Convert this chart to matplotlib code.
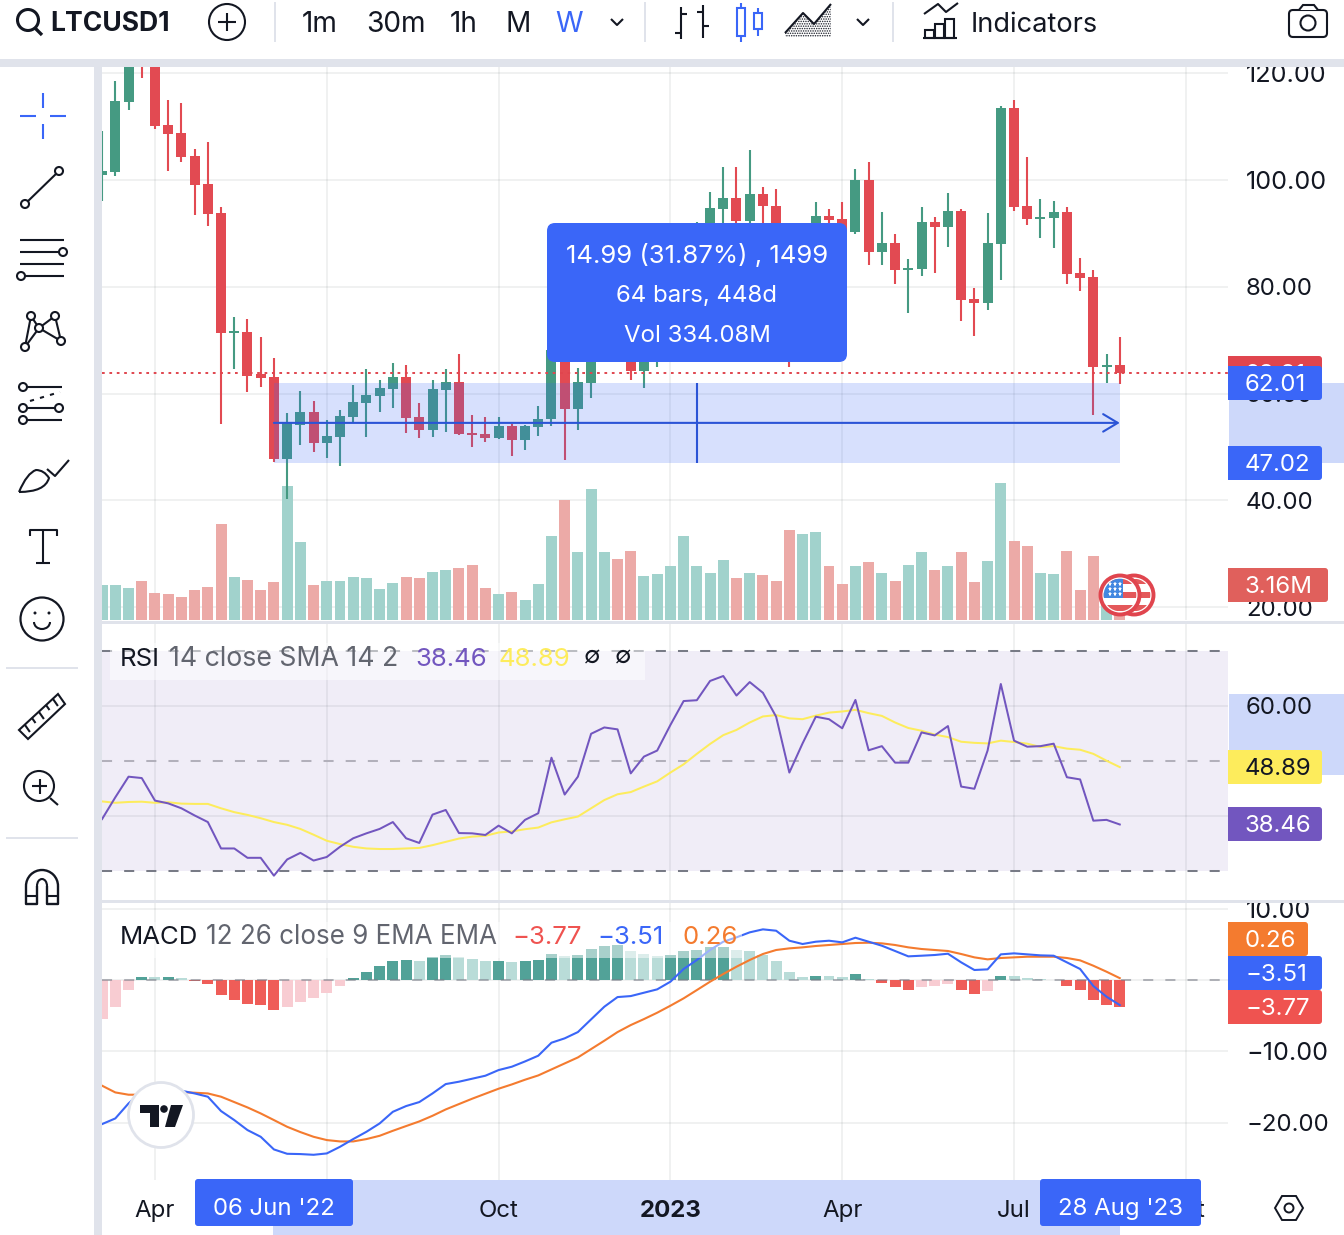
import numpy as np
import matplotlib
matplotlib.use("Agg")
import matplotlib.pyplot as plt
from matplotlib.patches import Rectangle, Circle, FancyBboxPatch, Polygon, PathPatch, Arc
from matplotlib.path import Path

plt.rcParams['font.family'] = ['Inter', 'DejaVu Sans']
plt.rcParams['hatch.linewidth'] = 0.7

W, H = 1344, 1235

opens = [100.9,101.5,114.6,128,125,110.3,108.8,104.5,99.25,93.8,71.35,71.5,63.7,63.1,47.75,54.1,56.55,50.75,51.9,55.6,
         58.2,59.55,60.85,63.1,55.6,53.2,60.7,62.2,52.6,52.4,51.7,53.95,51.3,53.75,55.25,68.2,57.1,62,70,71,
         68,64.2,66,70,78,85,92,94.6,96.6,92.3,97.35,95.1,88,73,83,93.25,92.7,90.25,100,86.5,
         88.2,83.15,83.3,92.1,91.2,94.2,77.7,77,88,113.5,95.1,92.7,92.9,94,82.6,81.85,65,65.35]
closes = [101.7,114.8,124,125,110.1,108.6,104.3,99.06,93.6,71.35,71.7,63.3,62.9,47.75,54.5,56.55,50.75,52.06,55.8,58.4,
          59.7,61.05,63.1,55.4,53.2,60.85,62.2,52.4,52.25,51.7,53.95,51.3,53.95,55.25,68.2,57.1,62.2,70,71,68,
          64.2,66,70,78,85,91,94.75,96.6,92.3,97.35,95.1,88,73,83,93.25,92.5,90.25,100,86.5,88.2,
          83.15,83.5,92.1,91.2,94.2,77.5,77,88.2,113.5,94.9,92.7,93.05,94,82.4,81.65,65,65.35,63.8]
highs = [109.2,118.5,128,132,127,115,114.4,105.8,107.1,94.94,74.4,74,70.6,66.7,56.4,60.5,58.6,55.05,56.9,61.6,
         64.6,62.5,65.7,65.35,58.25,62.5,64.6,67.4,56,55.6,55.6,54.3,54.1,57.7,69,72,64.8,71,72,72,
         69,67,71,79,86,92.1,97.75,102.4,102.4,105.6,98.7,98.3,90,84,95.9,94.6,95.9,102.05,103.35,94,
         89.9,85.2,94.9,93.05,97.55,94.6,79.75,93.8,113.9,115,104.3,96.4,96.05,94.9,85.4,83.15,67.4,70.6]
lows = [96.07,100.75,113.1,119.1,109.55,101.7,103.4,93.4,91.4,54.3,64.6,60.3,61.2,47.2,40.3,50.4,49.1,48,46.45,54.7,
        51.9,56.55,57.3,52.6,51.7,51.9,52.8,52.25,50,50.95,51.5,48.3,49.4,52.06,53.9,47.6,53.2,59.2,69,66.5,
        62.5,61,65,69,77,84,90,91,90,91,91.5,84,65,70,81,91.9,88,89.9,84.05,84.05,
        80.5,75.1,82,82.6,87.45,73.6,70.8,75.65,81.25,94.2,91.55,89.1,87.25,80.5,79.2,56,62,61.8]
volumes = [5.25,5.25,4.8,5.85,4.05,3.9,3.45,4.5,4.95,14.4,6.45,6.0,4.5,5.7,20.1,11.7,5.25,5.85,5.85,6.45,
           6.3,4.65,5.55,6.45,6.3,7.2,7.5,7.8,8.25,4.8,3.9,4.2,3.0,5.4,12.6,18,10.2,19.65,10.2,9.15,
           10.35,6.6,6.9,8.1,12.6,8.1,7.05,9,6.3,7.05,6.75,5.85,13.5,12.9,13.2,8.1,5.4,8.1,8.7,7.05,
           5.85,8.25,10.2,7.5,8.1,10.2,5.7,8.85,20.55,11.85,11.1,7.05,6.9,10.35,4.5,9.6,5.0,3.16]

rsi = [39.45,43.4,47.15,46.9,42.8,42.3,41.4,40.1,38.9,34.1,34.1,32.4,32.4,29.15,32.1,33.3,31.9,32.55,34.4,35.95,
       36.85,37.65,38.9,35.95,35.1,40.25,41.1,36.9,36.85,36.55,38.25,36.85,39.3,40.5,50.6,43.9,47.15,54.95,56.1,55.75,
       47.75,50.8,51.9,56.55,60.9,61.05,64.55,65.45,61.9,64.35,62.4,58.05,47.9,53.2,58.05,57.6,55.95,61.1,51.95,52.7,
       49.7,49.7,55.2,54.65,56.35,45.35,44.95,51.9,64,53.7,52.6,52.7,53.15,47.05,46.65,39.15,39.3,38.46]
rsi_sma = [42.65,42.4,42.55,42.6,42.4,42.5,42.25,42.2,42.2,41.4,40.7,40.2,39.6,38.9,38.4,37.65,36.6,35.5,34.9,34.4,
           34.1,34,34,34.1,34.2,34.7,35.3,35.9,36.25,36.4,37,37.2,37.6,37.9,38.85,39.4,39.9,41.4,42.9,43.95,
           44.35,45.35,46.3,47.9,49.4,51.3,53.1,54.7,55.65,57,58.1,58.35,57.75,57.6,58.25,58.8,59,59.3,58.7,58.2,
           57,56,55.5,54.8,54.35,53.5,53.3,53.2,53.7,53.45,53.15,52.55,52.7,52.25,52.05,51.3,50.05,48.89]

macd_line = [-20.17,-19.38,-17.28,-15.64,-15.18,-15.18,-15.5,-15.88,-16.34,-18.35,-19.61,-21.01,-21.95,-23.72,-24.33,-24.37,-24.47,-24.28,-23.35,-22.27,
             -21.25,-20.08,-18.45,-17.65,-17.09,-15.88,-14.57,-14.24,-13.82,-13.4,-12.61,-12.14,-11.4,-10.6,-8.78,-8.17,-7.29,-5.51,-3.74,-2.39,
             -2.25,-1.78,-1.31,-0.24,1.54,2.8,4.2,5.36,5.97,6.67,7.09,6.9,5.5,5.04,5.36,5.5,5.27,5.92,5.36,4.8,
             4.06,3.31,3.4,3.5,3.68,2.47,1.4,1.49,3.59,3.73,3.59,3.45,3.4,2.47,1.54,-0.84,-2.34,-3.51]
signal_line = [-14.8,-15.74,-16.06,-16.06,-16.02,-15.88,-15.69,-15.78,-15.88,-16.34,-17.09,-17.84,-18.68,-19.61,-20.55,-21.29,-21.95,-22.41,-22.6,-22.6,
               -22.27,-21.81,-21.11,-20.45,-19.8,-19.01,-18.12,-17.37,-16.62,-15.92,-15.22,-14.62,-13.96,-13.36,-12.52,-11.68,-10.84,-9.67,-8.5,-7.29,
               -6.31,-5.47,-4.58,-3.6,-2.57,-1.41,-0.24,0.84,1.86,2.8,3.64,4.2,4.43,4.57,4.76,4.9,5.04,5.18,5.22,5.13,
               4.9,4.57,4.34,4.2,4.06,3.64,3.17,2.89,3.08,3.17,3.26,3.26,3.26,3.08,2.75,2.0,1.16,0.26]
hist = [-5.46,-3.78,-1.4,0.42,0.40,0.42,0.28,-0.14,-0.56,-2.1,-2.8,-3.36,-3.5,-4.2,-3.78,-3.08,-2.52,-1.82,-0.84,0.28,
        1.12,1.96,2.66,2.8,2.66,3.22,3.5,3.22,2.94,2.66,2.68,2.52,2.66,2.8,3.64,3.36,3.5,4.34,4.76,4.9,
        4.06,3.64,3.36,3.5,4.06,4.2,4.62,4.62,4.2,4.06,3.5,2.66,1.12,0.42,0.56,0.55,0.42,0.84,0.14,-0.42,
        -0.98,-1.4,-0.98,-0.84,-0.56,-1.4,-1.96,-1.54,0.56,0.55,0.28,0.14,0.02,-0.84,-1.4,-2.8,-3.5,-3.77]

price_ticks = [120, 100, 80, 60, 40, 20]
rsi_ticks = [60, 40]
macd_ticks = [10, 0, -10, -20]
time_pos = [4, 17, 30, 43, 56, 69, 82]
time_labels = ['Apr', 'Jul', 'Oct', '2023', 'Apr', 'Jul', 'Oct']
range_top, range_bottom = 62.01, 47.02
range_start, range_end = 13, 77
last_price = 63.81

UP, DOWN = '#459A82', '#E24A52'
BLUE = '#3A66F8'
INK = '#131722'
GREY = '#62656F'
GUTTER = '#E0E3EB'
BAND = '#CDD8FA'
XLIM = (-0.008, 85.19)

fig = plt.figure(figsize=(W/100, H/100), dpi=100, facecolor='white')

def pane(x0, y0, x1, y1, z):
    ax = fig.add_axes([x0/W, 1-y1/H, (x1-x0)/W, (y1-y0)/H], zorder=z)
    ax.patch.set_alpha(0)
    for s in ax.spines.values():
        s.set_visible(False)
    ax.set_xlim(*XLIM)
    ax.tick_params(length=0, labelbottom=False, labelleft=False)
    return ax

def right_labels(ax, ticks):
    ax.set_yticks(ticks)
    ax.yaxis.tick_right()
    ax.tick_params(axis='y', length=0, pad=13, labelright=True, labelleft=False)
    ax.set_yticklabels([f'{t:.2f}'.replace('-', '\u2212') for t in ticks], fontsize=17.3, color=INK, ha='left')
    for lab in ax.get_yticklabels():
        if '1' in lab.get_text():
            lab.set_fontsize(18.2)

def grid(ax):
    ax.set_axisbelow(True)
    ax.set_xticks(time_pos)
    ax.grid(True, color='#2A2E39', alpha=0.065, lw=1.45)

# background layer
bg = fig.add_axes([0, 0, 1, 1], zorder=0)
bg.set_xlim(0, W); bg.set_ylim(H, 0); bg.axis('off')
bg.add_patch(Rectangle((1229, 383), 115, 80, color=BAND, lw=0))
bg.add_patch(Rectangle((1229, 694), 115, 81, color=BAND, lw=0))
bg.add_patch(Rectangle((273, 1180), 847, 55, color=BAND, lw=0))

# price pane
pgrid = pane(102, 67, 1228, 620, 1)
pgrid.set_ylim(17.6, 121.16)
right_labels(pgrid, price_ticks)
grid(pgrid)

vol = pane(102, 67, 1228, 620, 2)
vol.set_ylim(0, 82.9)
vol.set_xticks([]); vol.set_yticks([])
idx = np.arange(len(closes))
o, c, h, l = map(np.array, (opens, closes, highs, lows))
is_up = c >= o
vol.bar(idx, volumes, width=0.83, color=np.where(is_up, '#A1D2CC', '#ECAAA7'), alpha=1, lw=0)
vol.patch.set_alpha(0)

price = pane(102, 67, 1228, 620, 3)
price.set_ylim(17.6, 121.16)
price.set_xticks([]); price.set_yticks([])
cols = np.where(is_up, UP, DOWN)
price.vlines(idx, l, h, colors=cols, lw=1.5, zorder=2)
price.bar(idx, np.abs(c-o), bottom=np.minimum(o, c), width=0.757, color=cols, lw=0, zorder=3)
price.axhline(last_price, color='#E0454E', lw=1.4, ls=(0, (1.4, 2.4)), zorder=4)
price.add_patch(Rectangle((range_start, range_bottom), range_end-range_start, range_top-range_bottom,
                          facecolor=BLUE, alpha=0.2, lw=0, zorder=5))
mid = (range_top + range_bottom) / 2
price.annotate('', xy=(range_end, mid), xytext=(range_start, mid), zorder=6,
               arrowprops=dict(arrowstyle='->,head_length=0.75,head_width=0.45', color='#2B54D6', lw=1.5,
                               shrinkA=0, shrinkB=0, mutation_scale=14))
price.vlines((range_start+range_end)/2, range_bottom, range_top, color='#2B54D6', lw=1.5, zorder=6)

# RSI pane
rax = pane(102, 622, 1228, 900, 2)
rax.set_ylim(24.73, 75.27)
right_labels(rax, rsi_ticks)
grid(rax)
rax.axhspan(30, 70, color='#F0EDF7', lw=0, zorder=0.1)
rax.axhline(70, color='#787B86', lw=1.45, ls=(0, (5, 6)), zorder=1)
rax.axhline(30, color='#787B86', lw=1.45, ls=(0, (5, 6)), zorder=1)
rax.axhline(50, color='#B2B0BB', lw=1.45, ls=(0, (5, 6)), zorder=1)
rax.plot(idx, rsi_sma, color='#FDEC5C', lw=1.45, zorder=3)
rax.plot(idx, rsi, color='#7256BF', lw=1.45, zorder=4)

# MACD pane
max_ = pane(102, 901, 1228, 1180, 2)
max_.set_ylim(-28.0, 11.06)
right_labels(max_, [10, -10, -20])
max_.set_yticks(macd_ticks[1:2], minor=True)
grid(max_)
max_.yaxis.grid(True, which='minor', color='#2A2E39', alpha=0.065, lw=1.45)
hcol = []
prev = -6.0
for v in hist:
    if v >= 0:
        hcol.append('#52A298' if v >= prev else '#B9DCD8')
    else:
        hcol.append('#EF5D58' if v < prev else '#F8CCD2')
    prev = v
max_.bar(idx, hist, width=0.83, color=hcol, lw=0, zorder=2)
max_.axhline(0, color='#787B86', alpha=0.55, lw=1.45, ls=(0, (5, 6)), zorder=3)
max_.plot(idx, signal_line, color='#F47B2F', lw=1.5, zorder=4)
max_.plot(idx, macd_line, color='#3A66F8', lw=1.5, zorder=5)
max_.set_xticks(time_pos)
max_.set_xticklabels(time_labels, fontsize=17.3, color=INK)
max_.tick_params(axis='x', length=0, pad=14.6, labelbottom=True)
max_.get_xticklabels()[3].set_fontweight('bold')

# overlay layer
ov = fig.add_axes([0, 0, 1, 1], zorder=10)
ov.set_xlim(0, W); ov.set_ylim(H, 0); ov.axis('off')

def T(x, y, s, px=24, color=INK, ha='left', weight='normal', z=4):
    ov.text(x, y+2, s, fontsize=px*0.72, color=color, ha=ha, va='center', fontweight=weight, zorder=z)

def L(xs, ys, color=INK, lw=1.5, **kw):
    ov.plot(xs, ys, color=color, lw=lw, solid_capstyle=kw.pop('cap', 'butt'), zorder=kw.pop('zorder', 4), **kw)

def R(x, y, w, h, color, alpha=1, z=1):
    ov.add_patch(Rectangle((x, y), w, h, facecolor=color, alpha=alpha, lw=0, zorder=z))

def RR(x, y, w, h, color, r=6, z=2):
    ov.add_patch(FancyBboxPatch((x+r, y+r), w-2*r, h-2*r, boxstyle=f'round,pad={r},rounding_size={r}',
                                facecolor=color, lw=0, zorder=z))

def C(x, y, r, lw=1.5, fc='white', ec=INK, z=5):
    ov.add_patch(Circle((x, y), r, facecolor=fc, edgecolor=ec, lw=lw, zorder=z))

# chrome strips
R(0, 59, W, 8, GUTTER)
R(94, 59, 8, H-59, GUTTER)
R(102, 621, W-102, 3, GUTTER)
R(102, 900, W-102, 3, GUTTER)
for sx in (275, 645, 893):
    R(sx-1, 2, 2, 40, GUTTER)

# top toolbar
C(28, 20, 10.5, lw=2.2, fc='none')
L([35, 42], [28, 35], lw=2.4)
T(50, 22, 'LTCUSD1', 26.5, weight='bold')
R(172, 4, 12, 36, 'white', z=6)
C(227, 22, 18, lw=1.5, fc='none')
L([218, 236], [22, 22]); L([227, 227], [13, 31])
for x, s, col in [(302, '1m', INK), (366, '30m', INK), (450, '1h', INK), (506, 'M', INK), (555, 'W', BLUE)]:
    T(x, 23, s, 28, col)
L([611, 617, 623], [19, 25, 19])
L([681, 681], [7, 39]); L([675, 681], [33, 33]); L([681, 687], [14, 14])
L([703, 703], [5, 38]); L([697, 703], [12, 12]); L([703, 709], [26, 26])
L([741, 741], [3, 42], BLUE, zorder=2); ov.add_patch(Rectangle((737, 8), 8, 28, facecolor='white', edgecolor=BLUE, lw=1.5, zorder=3))
L([758, 758], [8, 36], BLUE, zorder=2); ov.add_patch(Rectangle((754, 13), 8, 16, facecolor='white', edgecolor=BLUE, lw=1.5, zorder=3))
ov.add_patch(Polygon([(785, 37), (785, 33), (803, 13), (814, 24), (831, 4), (831, 37)], facecolor='white',
                     edgecolor=INK, lw=0, hatch='.......', zorder=2))
L([785, 803, 814, 831], [33, 13, 24, 4], lw=1.5)
L([857, 863, 869], [19, 25, 19])
L([924, 938, 946, 958], [14, 4, 12, 3], lw=1.5)
for x, y0 in [(925, 30), (935, 24), (945, 19)]:
    ov.add_patch(Rectangle((x, y0), 9, 38-y0, facecolor='white', edgecolor=INK, lw=1.5, zorder=3))
L([923, 957], [38, 38], lw=1.5)
T(971, 23, 'Indicators', 27.2, INK)
ov.add_patch(FancyBboxPatch((1292, 13), 32, 21, boxstyle='round,pad=3,rounding_size=4', facecolor='white', edgecolor=INK, lw=1.5, zorder=3))
ov.add_patch(Polygon([(1299, 10), (1303, 5), (1314, 5), (1318, 10)], closed=False, facecolor='white', edgecolor=INK, lw=1.5, zorder=3))
C(1308, 23, 7.5, lw=1.5, fc='none')

# left tools
L([20, 36], [116, 116], BLUE); L([50, 66], [116, 116], BLUE)
L([43, 43], [93, 108], BLUE); L([43, 43], [124, 139], BLUE)
L([25, 59], [204, 171]); C(25, 204, 4); C(59, 171, 4)
for y in (240, 252, 264, 276):
    L([20, 64], [y, y])
C(63, 252, 4); C(21, 276, 4)
pts = [(25, 347), (31, 316), (39, 328), (55, 316), (61, 341)]
for a, b in [(0, 1), (0, 2), (1, 2), (2, 3), (2, 4), (3, 4)]:
    L([pts[a][0], pts[b][0]], [pts[a][1], pts[b][1]])
for p in pts:
    C(p[0], p[1], 4)
for y in (387, 408, 420):
    L([23, 62], [y, y])
L([30, 60], [401, 392], ls=(0, (2, 3)))
C(23, 387, 4); C(23, 408, 4); C(59, 408, 4); C(23, 420, 4)
verts = [(19, 492), (27, 473), (36, 470), (44, 470), (49, 478), (45, 492), (19, 492)]
ov.add_patch(PathPatch(Path(verts, [1, 3, 3, 3, 3, 3, 79]), facecolor='white', edgecolor=INK, lw=1.5, zorder=3))
L([47, 55, 69], [469, 476, 460])
L([30, 30, 57, 57], [536, 530, 530, 536]); L([43, 43], [530, 563]); L([36, 50], [563, 563])
C(42, 619, 21.5, lw=1.6, fc='none')
C(35, 613, 1.5, lw=0, fc=INK); C(49, 613, 1.5, lw=0, fc=INK)
ov.add_patch(Arc((42, 622), 16, 14, theta1=0, theta2=180, edgecolor=INK, lw=1.5, zorder=3))
R(6, 667, 72, 2, GUTTER); R(6, 837, 72, 2, GUTTER)
ov.add_patch(Polygon([(19, 730), (58, 694), (65, 704), (28, 739)], facecolor='white', edgecolor=INK, lw=1.5, zorder=3))
for x, y, d in [(25, 725, 7), (32, 718, 5), (39, 712, 7), (46, 705, 5), (53, 699, 7)]:
    L([x, x+d*0.7], [y, y+d])
C(39, 786, 15, lw=1.5, fc='none')
L([32, 47], [786, 786]); L([39.5, 39.5], [779, 794]); L([50, 58], [798, 805])
ov.add_patch(Arc((42, 886), 32, 32, theta1=180, theta2=360, edgecolor=INK, lw=1.7, zorder=3))
L([26, 26, 37, 37], [886, 904, 904, 886], lw=1.7); L([47, 47, 58, 58], [886, 904, 904, 886], lw=1.7)
L([26, 37], [896, 896], lw=1.5); L([47, 58], [896, 896], lw=1.5)
ov.add_patch(Arc((42, 886), 10, 14, theta1=180, theta2=360, edgecolor=INK, lw=1.5, zorder=3))

# tooltip
RR(547, 223, 300, 139, BLUE, r=8)
T(697, 254, '14.99 (31.87%) , 1499', 25.7, 'white', ha='center')
T(697, 294, '64 bars, 448d', 24, 'white', ha='center')
T(697, 334, 'Vol 334.08M', 24, 'white', ha='center')

# price scale boxes
def box(y, w, s, bg_col, fg='white', z=2):
    ov.add_patch(FancyBboxPatch((1231, y+3), w-6, 28, boxstyle='round,pad=3,rounding_size=3',
                                facecolor=bg_col, lw=0, zorder=z))
    R(1228, y, 5, 34, bg_col, z=z)
    ov.text(1245, y+19, s, fontsize=17.3, color=fg, ha='left', va='center', zorder=z+0.5)

box(356, 94, '63.81', '#E0454E', z=2)
box(366, 94, '62.01', BLUE, z=3)
box(446, 94, '47.02', BLUE, z=3)
box(568, 100, '3.16M', '#E0605C', z=3)
box(750, 94, '48.89', '#FDEC5C', fg=INK, z=3)
box(807, 94, '38.46', '#7256BF', z=3)
box(922, 80, '0.26', '#F47B2F', z=3)
box(956, 94, '\u22123.51', BLUE, z=4)
box(990, 94, '\u22123.77', '#EF5350', z=5)

# RSI legend
R(110, 643, 535, 37, 'white', alpha=0.5, z=1)
T(120, 657, 'RSI', 25.8, INK)
T(169, 657, '14 close SMA 14 2', 26.7, GREY)
T(415, 657, '38.46', 25.8, '#7256BF')
T(499, 657, '48.89', 25.8, '#FDEC5C')
T(592, 656, '\u2205', 24, INK, ha='center')
T(623, 656, '\u2205', 24, INK, ha='center')

# MACD legend
R(110, 922, 632, 36, 'white', alpha=0.5, z=1)
T(120, 935, 'MACD', 25.8, INK)
T(206, 935, '12 26 close 9 EMA EMA', 26, GREY)
T(512, 935, '\u22123.77', 25.8, '#EF5350')
T(597, 935, '\u22123.51', 25.8, BLUE)
T(682, 935, '0.26', 25.8, '#F47B2F')

# time axis boxes
RR(195, 1179, 158, 47, BLUE, r=3)
RR(1040, 1179, 161, 47, BLUE, r=3)
T(274, 1207, "06 Jun '22", 24, 'white', ha='center')
T(1120, 1207, "28 Aug '23", 24, 'white', ha='center')
ov.add_patch(Polygon([(1275, 1208), (1282, 1196), (1296, 1196), (1303, 1208), (1296, 1220), (1282, 1220)],
                     facecolor='white', edgecolor=INK, lw=1.4, zorder=3))
C(1289, 1208, 4.5, lw=1.4, fc='none')

# TradingView logo
C(161, 1115, 32.5, lw=2.0, fc='white', ec=GUTTER, z=6)
ov.add_patch(Polygon([(140, 1105), (159, 1105), (159, 1127), (150, 1127), (150, 1113), (140, 1113)], facecolor=INK, lw=0, zorder=7))
C(164, 1109, 3.8, lw=0, fc=INK, z=7)
ov.add_patch(Polygon([(165, 1127), (175, 1127), (183, 1105), (171, 1105)], facecolor=INK, lw=0, zorder=7))

# economic event badges
def flag(cx, z, canton):
    C(cx, 595, 19.5, lw=2.8, fc='white', ec='#E0454E', z=z)
    clip = Circle((cx, 595), 16.3, transform=ov.transData)
    parts = []
    for y, h_ in [(579, 5), (592, 6), (605, 6)]:
        parts.append(Rectangle((cx-18, y), 36, h_, facecolor='#E4585A', lw=0, zorder=z+0.1))
    if canton:
        parts.append(Rectangle((cx-17, 578), 20, 20, facecolor='#4388E0', lw=0, zorder=z+0.2))
    for p in parts:
        ov.add_patch(p)
        p.set_clip_path(clip)
    if canton:
        for yy in (584, 589, 594):
            for dx in (-10, -5, 0):
                ov.plot([cx+dx], [yy], marker='*', ms=3.6, color='white', mew=0, zorder=z+0.3)

flag(1134, 7, False)
flag(1120, 8, True)

ov.set_xlim(0, W); ov.set_ylim(H, 0)
fig.savefig('out.png', dpi=100)
